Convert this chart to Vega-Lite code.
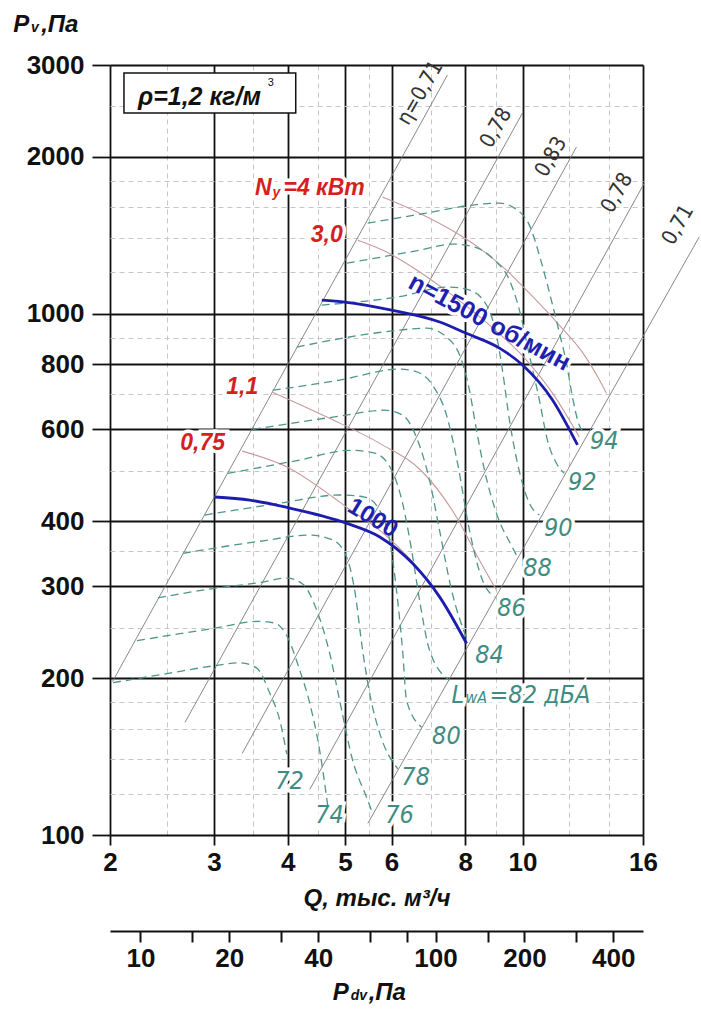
{
  "$schema": "https://vega.github.io/schema/vega-lite/v6.json",
  "width": 533,
  "height": 770,
  "autosize": {"type": "none"},
  "padding": {"left": 110, "top": 65, "right": 58, "bottom": 175},
  "background": "white",
  "config": {"view": {"stroke": null}},
  "datasets": {
    "curves": [
      {"id": "R1", "kind": "ray", "ord": 0, "q": 2.02, "p": 197}, {"id": "R1", "kind": "ray", "ord": 1, "q": 7.46, "p": 2870},
      {"id": "R2", "kind": "ray", "ord": 0, "q": 2.68, "p": 164.5}, {"id": "R2", "kind": "ray", "ord": 1, "q": 10.0, "p": 2427},
      {"id": "R3", "kind": "ray", "ord": 0, "q": 3.35, "p": 143.4}, {"id": "R3", "kind": "ray", "ord": 1, "q": 12.34, "p": 2088},
      {"id": "R4", "kind": "ray", "ord": 0, "q": 4.36, "p": 122.3}, {"id": "R4", "kind": "ray", "ord": 1, "q": 16.08, "p": 1780},
      {"id": "R5", "kind": "ray", "ord": 0, "q": 5.47, "p": 105.3}, {"id": "R5", "kind": "ray", "ord": 1, "q": 19.92, "p": 1403},

      {"id": "PA", "kind": "pow", "ord": 0, "q": 5.79, "p": 1674}, {"id": "PA", "kind": "pow", "ord": 1, "q": 6.69, "p": 1559},
      {"id": "PA", "kind": "pow", "ord": 2, "q": 7.73, "p": 1428}, {"id": "PA", "kind": "pow", "ord": 3, "q": 8.45, "p": 1336},
      {"id": "PA", "kind": "pow", "ord": 4, "q": 9.39, "p": 1212}, {"id": "PA", "kind": "pow", "ord": 5, "q": 10.27, "p": 1095},
      {"id": "PA", "kind": "pow", "ord": 6, "q": 11.54, "p": 951}, {"id": "PA", "kind": "pow", "ord": 7, "q": 12.73, "p": 833},
      {"id": "PA", "kind": "pow", "ord": 8, "q": 13.5, "p": 746}, {"id": "PA", "kind": "pow", "ord": 9, "q": 13.87, "p": 704},
      {"id": "PB", "kind": "pow", "ord": 0, "q": 5.26, "p": 1384}, {"id": "PB", "kind": "pow", "ord": 1, "q": 5.84, "p": 1319},
      {"id": "PB", "kind": "pow", "ord": 2, "q": 6.51, "p": 1228}, {"id": "PB", "kind": "pow", "ord": 3, "q": 7.52, "p": 1095},
      {"id": "PB", "kind": "pow", "ord": 4, "q": 8.79, "p": 951}, {"id": "PB", "kind": "pow", "ord": 5, "q": 10.08, "p": 822},
      {"id": "PB", "kind": "pow", "ord": 6, "q": 11.24, "p": 704}, {"id": "PB", "kind": "pow", "ord": 7, "q": 12.48, "p": 580},
      {"id": "PC", "kind": "pow", "ord": 0, "q": 3.77, "p": 707}, {"id": "PC", "kind": "pow", "ord": 1, "q": 4.71, "p": 630},
      {"id": "PC", "kind": "pow", "ord": 2, "q": 5.73, "p": 564}, {"id": "PC", "kind": "pow", "ord": 3, "q": 6.77, "p": 497},
      {"id": "PC", "kind": "pow", "ord": 4, "q": 7.73, "p": 407}, {"id": "PC", "kind": "pow", "ord": 5, "q": 8.45, "p": 337},
      {"id": "PC", "kind": "pow", "ord": 6, "q": 9.03, "p": 295},
      {"id": "PD", "kind": "pow", "ord": 0, "q": 3.35, "p": 545}, {"id": "PD", "kind": "pow", "ord": 1, "q": 3.99, "p": 508},
      {"id": "PD", "kind": "pow", "ord": 2, "q": 4.77, "p": 445}, {"id": "PD", "kind": "pow", "ord": 3, "q": 5.04, "p": 425},
      {"id": "PD", "kind": "pow", "ord": 4, "q": 5.73, "p": 384}, {"id": "PD", "kind": "pow", "ord": 5, "q": 6.51, "p": 334},
      {"id": "PD", "kind": "pow", "ord": 6, "q": 7.24, "p": 286}, {"id": "PD", "kind": "pow", "ord": 7, "q": 7.97, "p": 236},

      {"id": "B15", "kind": "rpm", "ord": 0, "q": 4.57, "p": 1062}, {"id": "B15", "kind": "rpm", "ord": 1, "q": 5.0, "p": 1053},
      {"id": "B15", "kind": "rpm", "ord": 2, "q": 6.0, "p": 1016}, {"id": "B15", "kind": "rpm", "ord": 3, "q": 7.24, "p": 964},
      {"id": "B15", "kind": "rpm", "ord": 4, "q": 8.01, "p": 918}, {"id": "B15", "kind": "rpm", "ord": 5, "q": 9.14, "p": 859},
      {"id": "B15", "kind": "rpm", "ord": 6, "q": 10.0, "p": 797}, {"id": "B15", "kind": "rpm", "ord": 7, "q": 11.24, "p": 683},
      {"id": "B15", "kind": "rpm", "ord": 8, "q": 12.39, "p": 560},
      {"id": "B10", "kind": "rpm", "ord": 0, "q": 3.01, "p": 445}, {"id": "B10", "kind": "rpm", "ord": 1, "q": 3.45, "p": 439},
      {"id": "B10", "kind": "rpm", "ord": 2, "q": 3.99, "p": 425}, {"id": "B10", "kind": "rpm", "ord": 3, "q": 5.04, "p": 396},
      {"id": "B10", "kind": "rpm", "ord": 4, "q": 5.73, "p": 373}, {"id": "B10", "kind": "rpm", "ord": 5, "q": 6.51, "p": 332},
      {"id": "B10", "kind": "rpm", "ord": 6, "q": 7.24, "p": 286}, {"id": "B10", "kind": "rpm", "ord": 7, "q": 8.04, "p": 233},

      {"id": "N72", "kind": "noise", "ord": 0, "q": 2.024, "p": 196}, {"id": "N72", "kind": "noise", "ord": 1, "q": 2.497, "p": 204},
      {"id": "N72", "kind": "noise", "ord": 2, "q": 2.988, "p": 211}, {"id": "N72", "kind": "noise", "ord": 3, "q": 3.319, "p": 214},
      {"id": "N72", "kind": "noise", "ord": 4, "q": 3.546, "p": 209}, {"id": "N72", "kind": "noise", "ord": 5, "q": 3.731, "p": 187},
      {"id": "N72", "kind": "noise", "ord": 6, "q": 3.879, "p": 166}, {"id": "N72", "kind": "noise", "ord": 7, "q": 3.986, "p": 143},

      {"id": "N74", "kind": "noise", "ord": 0, "q": 2.222, "p": 236}, {"id": "N74", "kind": "noise", "ord": 1, "q": 2.988, "p": 249},
      {"id": "N74", "kind": "noise", "ord": 2, "q": 3.588, "p": 257}, {"id": "N74", "kind": "noise", "ord": 3, "q": 3.804, "p": 255},
      {"id": "N74", "kind": "noise", "ord": 4, "q": 4.002, "p": 239}, {"id": "N74", "kind": "noise", "ord": 5, "q": 4.193, "p": 207},
      {"id": "N74", "kind": "noise", "ord": 6, "q": 4.36, "p": 179}, {"id": "N74", "kind": "noise", "ord": 7, "q": 4.533, "p": 145},
      {"id": "N74", "kind": "noise", "ord": 8, "q": 4.676, "p": 114},

      {"id": "N76", "kind": "noise", "ord": 0, "q": 2.411, "p": 285}, {"id": "N76", "kind": "noise", "ord": 1, "q": 2.988, "p": 297},
      {"id": "N76", "kind": "noise", "ord": 2, "q": 3.588, "p": 305}, {"id": "N76", "kind": "noise", "ord": 3, "q": 3.986, "p": 311},
      {"id": "N76", "kind": "noise", "ord": 4, "q": 4.242, "p": 303}, {"id": "N76", "kind": "noise", "ord": 5, "q": 4.48, "p": 270},
      {"id": "N76", "kind": "noise", "ord": 6, "q": 4.713, "p": 223}, {"id": "N76", "kind": "noise", "ord": 7, "q": 4.9, "p": 181},
      {"id": "N76", "kind": "noise", "ord": 8, "q": 5.155, "p": 139}, {"id": "N76", "kind": "noise", "ord": 9, "q": 5.444, "p": 118},
      {"id": "N76", "kind": "noise", "ord": 10, "q": 5.572, "p": 110},

      {"id": "N78", "kind": "noise", "ord": 0, "q": 2.658, "p": 347}, {"id": "N78", "kind": "noise", "ord": 1, "q": 3.588, "p": 366},
      {"id": "N78", "kind": "noise", "ord": 2, "q": 4.36, "p": 376}, {"id": "N78", "kind": "noise", "ord": 3, "q": 4.768, "p": 368},
      {"id": "N78", "kind": "noise", "ord": 4, "q": 5.036, "p": 341}, {"id": "N78", "kind": "noise", "ord": 5, "q": 5.195, "p": 295},
      {"id": "N78", "kind": "noise", "ord": 6, "q": 5.359, "p": 226}, {"id": "N78", "kind": "noise", "ord": 7, "q": 5.508, "p": 187},
      {"id": "N78", "kind": "noise", "ord": 8, "q": 5.726, "p": 157}, {"id": "N78", "kind": "noise", "ord": 9, "q": 6.143, "p": 134},

      {"id": "N80", "kind": "noise", "ord": 0, "q": 2.896, "p": 411}, {"id": "N80", "kind": "noise", "ord": 1, "q": 3.879, "p": 433},
      {"id": "N80", "kind": "noise", "ord": 2, "q": 4.9, "p": 449}, {"id": "N80", "kind": "noise", "ord": 3, "q": 5.401, "p": 445},
      {"id": "N80", "kind": "noise", "ord": 4, "q": 5.726, "p": 420}, {"id": "N80", "kind": "noise", "ord": 5, "q": 5.954, "p": 368},
      {"id": "N80", "kind": "noise", "ord": 6, "q": 6.143, "p": 282}, {"id": "N80", "kind": "noise", "ord": 7, "q": 6.263, "p": 226},
      {"id": "N80", "kind": "noise", "ord": 8, "q": 6.362, "p": 181}, {"id": "N80", "kind": "noise", "ord": 9, "q": 6.745, "p": 161},

      {"id": "N82", "kind": "noise", "ord": 0, "q": 3.167, "p": 494}, {"id": "N82", "kind": "noise", "ord": 1, "q": 4.193, "p": 524},
      {"id": "N82", "kind": "noise", "ord": 2, "q": 5.095, "p": 547}, {"id": "N82", "kind": "noise", "ord": 3, "q": 5.616, "p": 540},
      {"id": "N82", "kind": "noise", "ord": 4, "q": 6.001, "p": 501}, {"id": "N82", "kind": "noise", "ord": 5, "q": 6.263, "p": 433},
      {"id": "N82", "kind": "noise", "ord": 6, "q": 6.487, "p": 352}, {"id": "N82", "kind": "noise", "ord": 7, "q": 6.692, "p": 282},
      {"id": "N82", "kind": "noise", "ord": 8, "q": 6.958, "p": 226}, {"id": "N82", "kind": "noise", "ord": 9, "q": 7.522, "p": 198},

      {"id": "N84", "kind": "noise", "ord": 0, "q": 3.491, "p": 600}, {"id": "N84", "kind": "noise", "ord": 1, "q": 4.9, "p": 636},
      {"id": "N84", "kind": "noise", "ord": 2, "q": 5.839, "p": 653}, {"id": "N84", "kind": "noise", "ord": 3, "q": 6.263, "p": 639},
      {"id": "N84", "kind": "noise", "ord": 4, "q": 6.64, "p": 572}, {"id": "N84", "kind": "noise", "ord": 5, "q": 6.958, "p": 479},
      {"id": "N84", "kind": "noise", "ord": 6, "q": 7.235, "p": 384}, {"id": "N84", "kind": "noise", "ord": 7, "q": 7.581, "p": 295},
      {"id": "N84", "kind": "noise", "ord": 8, "q": 8.068, "p": 236},

      {"id": "N86", "kind": "noise", "ord": 0, "q": 3.774, "p": 713}, {"id": "N86", "kind": "noise", "ord": 1, "q": 4.9, "p": 746},
      {"id": "N86", "kind": "noise", "ord": 2, "q": 6.191, "p": 783}, {"id": "N86", "kind": "noise", "ord": 3, "q": 6.563, "p": 776},
      {"id": "N86", "kind": "noise", "ord": 4, "q": 7.04, "p": 729}, {"id": "N86", "kind": "noise", "ord": 5, "q": 7.434, "p": 639},
      {"id": "N86", "kind": "noise", "ord": 6, "q": 7.76, "p": 517}, {"id": "N86", "kind": "noise", "ord": 7, "q": 8.131, "p": 384},
      {"id": "N86", "kind": "noise", "ord": 8, "q": 8.554, "p": 308}, {"id": "N86", "kind": "noise", "ord": 9, "q": 8.963, "p": 286},

      {"id": "N88", "kind": "noise", "ord": 0, "q": 4.144, "p": 863}, {"id": "N88", "kind": "noise", "ord": 1, "q": 5.794, "p": 922},
      {"id": "N88", "kind": "noise", "ord": 2, "q": 6.877, "p": 938}, {"id": "N88", "kind": "noise", "ord": 3, "q": 7.434, "p": 902},
      {"id": "N88", "kind": "noise", "ord": 4, "q": 7.882, "p": 815}, {"id": "N88", "kind": "noise", "ord": 5, "q": 8.131, "p": 713},
      {"id": "N88", "kind": "noise", "ord": 6, "q": 8.356, "p": 598}, {"id": "N88", "kind": "noise", "ord": 7, "q": 8.621, "p": 501},
      {"id": "N88", "kind": "noise", "ord": 8, "q": 9.034, "p": 414}, {"id": "N88", "kind": "noise", "ord": 9, "q": 9.615, "p": 356},
      {"id": "N88", "kind": "noise", "ord": 10, "q": 9.804, "p": 341},

      {"id": "N90", "kind": "noise", "ord": 0, "q": 4.568, "p": 1039}, {"id": "N90", "kind": "noise", "ord": 1, "q": 6.119, "p": 1076},
      {"id": "N90", "kind": "noise", "ord": 2, "q": 7.522, "p": 1125}, {"id": "N90", "kind": "noise", "ord": 3, "q": 8.131, "p": 1110},
      {"id": "N90", "kind": "noise", "ord": 4, "q": 8.688, "p": 1039}, {"id": "N90", "kind": "noise", "ord": 5, "q": 9.034, "p": 910},
      {"id": "N90", "kind": "noise", "ord": 6, "q": 9.247, "p": 779}, {"id": "N90", "kind": "noise", "ord": 7, "q": 9.503, "p": 625},
      {"id": "N90", "kind": "noise", "ord": 8, "q": 9.804, "p": 517}, {"id": "N90", "kind": "noise", "ord": 9, "q": 10.27, "p": 433},
      {"id": "N90", "kind": "noise", "ord": 10, "q": 10.68, "p": 411},

      {"id": "N92", "kind": "noise", "ord": 0, "q": 5.036, "p": 1250}, {"id": "N92", "kind": "noise", "ord": 1, "q": 6.692, "p": 1324},
      {"id": "N92", "kind": "noise", "ord": 2, "q": 7.61, "p": 1360}, {"id": "N92", "kind": "noise", "ord": 3, "q": 8.291, "p": 1342},
      {"id": "N92", "kind": "noise", "ord": 4, "q": 8.963, "p": 1267}, {"id": "N92", "kind": "noise", "ord": 5, "q": 9.503, "p": 1160},
      {"id": "N92", "kind": "noise", "ord": 6, "q": 9.88, "p": 1016}, {"id": "N92", "kind": "noise", "ord": 7, "q": 10.27, "p": 833},
      {"id": "N92", "kind": "noise", "ord": 8, "q": 10.68, "p": 683}, {"id": "N92", "kind": "noise", "ord": 9, "q": 11.02, "p": 572},
      {"id": "N92", "kind": "noise", "ord": 10, "q": 11.41, "p": 517}, {"id": "N92", "kind": "noise", "ord": 11, "q": 11.77, "p": 494},

      {"id": "N94", "kind": "noise", "ord": 0, "q": 5.465, "p": 1492}, {"id": "N94", "kind": "noise", "ord": 1, "q": 6.877, "p": 1560},
      {"id": "N94", "kind": "noise", "ord": 2, "q": 8.227, "p": 1616}, {"id": "N94", "kind": "noise", "ord": 3, "q": 9.14, "p": 1630},
      {"id": "N94", "kind": "noise", "ord": 4, "q": 9.804, "p": 1580}, {"id": "N94", "kind": "noise", "ord": 5, "q": 10.27, "p": 1479},
      {"id": "N94", "kind": "noise", "ord": 6, "q": 10.76, "p": 1256}, {"id": "N94", "kind": "noise", "ord": 7, "q": 11.19, "p": 1062},
      {"id": "N94", "kind": "noise", "ord": 8, "q": 11.55, "p": 918}, {"id": "N94", "kind": "noise", "ord": 9, "q": 11.87, "p": 804},
      {"id": "N94", "kind": "noise", "ord": 10, "q": 12.15, "p": 692}, {"id": "N94", "kind": "noise", "ord": 11, "q": 12.48, "p": 611},
      {"id": "N94", "kind": "noise", "ord": 12, "q": 12.78, "p": 590}
    ],
    "box": [{"q": 2.112, "q2": 4.128, "p": 2896, "p2": 2427}],
    "labels": [
      {"text": "η=0,71", "kind": "eta", "q": 6.72, "p": 2651},
      {"text": "0,78", "kind": "eta", "q": 9.03, "p": 2271},
      {"text": "0,83", "kind": "eta", "q": 11.19, "p": 1998},
      {"text": "0,78", "kind": "eta", "q": 14.47, "p": 1704},
      {"text": "0,71", "kind": "eta", "q": 18.36, "p": 1479},
      {"text": "3,0", "kind": "red", "q": 4.66, "p": 1415},
      {"text": "1,1", "kind": "red", "q": 3.35, "p": 723},
      {"text": "0,75", "kind": "red", "q": 2.87, "p": 564},
      {"text": "N", "kind": "redL", "q": 3.52, "p": 1690},
      {"text": "=4 кВт", "kind": "redL", "q": 3.935, "p": 1690},
      {"text": "y", "kind": "redSub", "q": 3.77, "p": 1675},
      {"text": "94", "kind": "teal", "q": 13.76, "p": 569},
      {"text": "92", "kind": "teal", "q": 12.63, "p": 475},
      {"text": "90", "kind": "teal", "q": 11.5, "p": 388},
      {"text": "88", "kind": "teal", "q": 10.6, "p": 325},
      {"text": "86", "kind": "teal", "q": 9.58, "p": 272},
      {"text": "84", "kind": "teal", "q": 8.79, "p": 221},
      {"text": "80", "kind": "teal", "q": 7.43, "p": 155},
      {"text": "78", "kind": "teal", "q": 6.59, "p": 129},
      {"text": "76", "kind": "teal", "q": 6.19, "p": 109},
      {"text": "74", "kind": "teal", "q": 4.71, "p": 109},
      {"text": "72", "kind": "teal", "q": 4.03, "p": 127},
      {"text": "L", "kind": "tealL", "q": 7.581, "p": 179},
      {"text": "=82 дБА", "kind": "tealL", "q": 8.79, "p": 179},
      {"text": "wA", "kind": "tealSub", "q": 8.006, "p": 179},
      {"text": "n=1500 об/мин", "kind": "b15", "q": 8.79, "p": 963},
      {"text": "1000", "kind": "b10", "q": 5.57, "p": 405},
      {"text": "P", "kind": "title", "q": 1.371, "p": 3471},
      {"text": ",Па", "kind": "title", "q": 1.529, "p": 3471},
      {"text": "v", "kind": "titleSub", "q": 1.47, "p": 3471},
      {"text": "P", "kind": "title", "q": 4.768, "p": 48.2},
      {"text": ",Па", "kind": "title", "q": 5.486, "p": 48.2},
      {"text": "dv", "kind": "titleSub", "q": 5.115, "p": 48.2},
      {"text": "ρ=1,2 кг/м", "kind": "box", "q": 2.231, "p": 2604},
      {"text": "3", "kind": "boxSup", "q": 3.7, "p": 2730}
    ],
    "pdv": [{"pdv": 10}, {"pdv": 400}]
  },
  "layer": [
    {
      "encoding": {
        "x": {
          "field": "q", "type": "quantitative",
          "scale": {"type": "log", "domain": [2, 16], "nice": false},
          "axis": {
            "values": [2, 2.5, 3, 3.5, 4, 4.5, 5, 5.5, 6, 7, 8, 9, 10, 12, 14, 16],
            "labelExpr": "indexof([2,3,4,5,6,8,10,16], datum.value) >= 0 ? datum.value + '' : ''",
            "domain": false,
            "grid": true,
            "gridColor": {"condition": {"test": "indexof([2,3,4,5,6,8,10,16], datum.value) >= 0", "value": "#111111"}, "value": "#c6c6c6"},
            "gridDash": {"condition": {"test": "indexof([2,3,4,5,6,8,10,16], datum.value) >= 0", "value": []}, "value": [5, 4]},
            "gridWidth": {"condition": {"test": "indexof([2,3,4,5,6,8,10,16], datum.value) >= 0", "value": 1.8}, "value": 1},
            "tickColor": {"condition": {"test": "indexof([2,3,4,5,6,8,10,16], datum.value) >= 0", "value": "#111111"}, "value": "transparent"},
            "tickSize": 10, "tickWidth": 1.8,
            "labelFont": "Liberation Sans", "labelFontWeight": "bold", "labelFontSize": 26, "labelColor": "#111111",
            "labelPadding": 4, "labelFlush": false, "labelOverlap": false,
            "title": "Q, тыс. м³/ч",
            "titleFont": "Liberation Sans", "titleFontWeight": "bold", "titleFontStyle": "italic", "titleFontSize": 24,
            "titleColor": "#111111", "titlePadding": 11
          }
        },
        "y": {
          "field": "p", "type": "quantitative",
          "scale": {"type": "log", "domain": [100, 3000], "nice": false},
          "axis": {
            "values": [100, 120, 140, 160, 180, 200, 250, 300, 350, 400, 500, 600, 700, 800, 900, 1000, 1200, 1400, 1600, 1800, 2000, 2500, 3000],
            "labelExpr": "indexof([100,200,300,400,600,800,1000,2000,3000], datum.value) >= 0 ? datum.value + '' : ''",
            "domain": false,
            "grid": true,
            "gridColor": {"condition": {"test": "indexof([100,200,300,400,600,800,1000,2000,3000], datum.value) >= 0", "value": "#111111"}, "value": "#c6c6c6"},
            "gridDash": {"condition": {"test": "indexof([100,200,300,400,600,800,1000,2000,3000], datum.value) >= 0", "value": []}, "value": [5, 4]},
            "gridWidth": {"condition": {"test": "indexof([100,200,300,400,600,800,1000,2000,3000], datum.value) >= 0", "value": 1.8}, "value": 1},
            "tickColor": {"condition": {"test": "indexof([100,200,300,400,600,800,1000,2000,3000], datum.value) >= 0", "value": "#111111"}, "value": "transparent"},
            "tickSize": 18, "tickWidth": 1.8,
            "labelFont": "Liberation Sans", "labelFontWeight": "bold", "labelFontSize": 26, "labelColor": "#111111",
            "labelPadding": 8, "labelFlush": false, "labelOverlap": false,
            "title": null
          }
        }
      },
      "layer": [
        {
          "data": {"name": "labels"},
          "transform": [{"filter": "datum.kind == 'teal' || datum.kind == 'tealL'"}],
          "mark": {"type": "text", "font": "Liberation Sans Narrow, DejaVu Sans Condensed, sans-serif", "fontStyle": "italic", "fontSize": 25, "color": "white", "stroke": "white", "strokeWidth": 7, "align": {"expr": "datum.kind == 'teal' ? 'center' : 'left'"}, "baseline": {"expr": "datum.kind == 'teal' ? 'middle' : 'alphabetic'"}},
          "encoding": {"text": {"field": "text"}}
        },
        {
          "data": {"name": "labels"},
          "transform": [{"filter": "datum.kind == 'red' || datum.kind == 'redL'"}],
          "mark": {"type": "text", "font": "Liberation Sans", "fontWeight": "bold", "fontStyle": "italic", "fontSize": 23, "color": "white", "stroke": "white", "strokeWidth": 7, "align": {"expr": "datum.kind == 'red' ? 'center' : 'left'"}, "baseline": {"expr": "datum.kind == 'red' ? 'middle' : 'alphabetic'"}},
          "encoding": {"text": {"field": "text"}}
        },
        {
          "data": {"name": "labels"},
          "transform": [{"filter": "datum.kind == 'b15'"}],
          "mark": {"type": "text", "font": "Liberation Sans", "fontWeight": "bold", "fontSize": 25, "color": "white", "stroke": "white", "strokeWidth": 7, "angle": 28, "align": "center", "baseline": "middle"},
          "encoding": {"text": {"field": "text"}}
        },
        {
          "data": {"name": "box"},
          "mark": {"type": "rect", "fill": "white", "stroke": "#111111", "strokeWidth": 1.5},
          "encoding": {"x2": {"field": "q2"}, "y2": {"field": "p2"}}
        },
        {
          "data": {"name": "curves"},
          "transform": [{"filter": "datum.kind == 'ray'"}],
          "mark": {"type": "line", "color": "#7a7a7a", "strokeWidth": 0.9},
          "encoding": {"detail": {"field": "id"}, "order": {"field": "ord"}}
        },
        {
          "data": {"name": "curves"},
          "transform": [{"filter": "datum.kind == 'pow'"}],
          "mark": {"type": "line", "color": "#c99a9a", "strokeWidth": 1.1, "interpolate": "monotone"},
          "encoding": {"detail": {"field": "id"}, "order": {"field": "ord"}}
        },
        {
          "data": {"name": "curves"},
          "transform": [{"filter": "datum.kind == 'noise'"}],
          "mark": {"type": "line", "color": "#4f9688", "strokeWidth": 1.3, "strokeDash": [8, 5], "interpolate": "monotone"},
          "encoding": {"detail": {"field": "id"}, "order": {"field": "ord"}}
        },
        {
          "data": {"name": "curves"},
          "transform": [{"filter": "datum.kind == 'rpm'"}],
          "mark": {"type": "line", "color": "#1c1cae", "strokeWidth": 2.8, "interpolate": "monotone"},
          "encoding": {"detail": {"field": "id"}, "order": {"field": "ord"}}
        },
        {
          "data": {"name": "labels"},
          "transform": [{"filter": "datum.kind == 'eta'"}],
          "mark": {"type": "text", "font": "Liberation Sans Narrow, DejaVu Sans Condensed, sans-serif", "fontSize": 21, "color": "#333333", "angle": 300, "align": "center", "baseline": "middle"},
          "encoding": {"text": {"field": "text"}}
        },
        {
          "data": {"name": "labels"},
          "transform": [{"filter": "datum.kind == 'red'"}],
          "mark": {"type": "text", "font": "Liberation Sans", "fontWeight": "bold", "fontStyle": "italic", "fontSize": 23, "color": "#d61f1f", "align": "center", "baseline": "middle"},
          "encoding": {"text": {"field": "text"}}
        },
        {
          "data": {"name": "labels"},
          "transform": [{"filter": "datum.kind == 'redL'"}],
          "mark": {"type": "text", "font": "Liberation Sans", "fontWeight": "bold", "fontStyle": "italic", "fontSize": 23, "color": "#d61f1f", "align": "left", "baseline": "alphabetic"},
          "encoding": {"text": {"field": "text"}}
        },
        {
          "data": {"name": "labels"},
          "transform": [{"filter": "datum.kind == 'redSub'"}],
          "mark": {"type": "text", "font": "Liberation Sans", "fontWeight": "bold", "fontStyle": "italic", "fontSize": 14, "color": "#d61f1f", "align": "left", "baseline": "alphabetic"},
          "encoding": {"text": {"field": "text"}}
        },
        {
          "data": {"name": "labels"},
          "transform": [{"filter": "datum.kind == 'teal'"}],
          "mark": {"type": "text", "font": "Liberation Sans Narrow, DejaVu Sans Condensed, sans-serif", "fontStyle": "italic", "fontSize": 25, "color": "#3f8c82", "align": "center", "baseline": "middle"},
          "encoding": {"text": {"field": "text"}}
        },
        {
          "data": {"name": "labels"},
          "transform": [{"filter": "datum.kind == 'tealL'"}],
          "mark": {"type": "text", "font": "Liberation Sans Narrow, DejaVu Sans Condensed, sans-serif", "fontStyle": "italic", "fontSize": 25, "color": "#3f8c82", "align": "left", "baseline": "alphabetic"},
          "encoding": {"text": {"field": "text"}}
        },
        {
          "data": {"name": "labels"},
          "transform": [{"filter": "datum.kind == 'tealSub'"}],
          "mark": {"type": "text", "font": "Liberation Sans Narrow, DejaVu Sans Condensed, sans-serif", "fontStyle": "italic", "fontSize": 16, "color": "#3f8c82", "align": "left", "baseline": "alphabetic"},
          "encoding": {"text": {"field": "text"}}
        },
        {
          "data": {"name": "labels"},
          "transform": [{"filter": "datum.kind == 'b15'"}],
          "mark": {"type": "text", "font": "Liberation Sans", "fontWeight": "bold", "fontSize": 25, "color": "#1f1fb0", "angle": 28, "align": "center", "baseline": "middle"},
          "encoding": {"text": {"field": "text"}}
        },
        {
          "data": {"name": "labels"},
          "transform": [{"filter": "datum.kind == 'b10'"}],
          "mark": {"type": "text", "font": "Liberation Sans", "fontWeight": "bold", "fontSize": 24, "color": "#1f1fb0", "angle": 31, "align": "center", "baseline": "middle"},
          "encoding": {"text": {"field": "text"}}
        },
        {
          "data": {"name": "labels"},
          "transform": [{"filter": "datum.kind == 'title'"}],
          "mark": {"type": "text", "font": "Liberation Sans", "fontWeight": "bold", "fontStyle": "italic", "fontSize": 24, "color": "#111111", "align": "left", "baseline": "alphabetic"},
          "encoding": {"text": {"field": "text"}}
        },
        {
          "data": {"name": "labels"},
          "transform": [{"filter": "datum.kind == 'titleSub'"}],
          "mark": {"type": "text", "font": "Liberation Sans", "fontWeight": "bold", "fontStyle": "italic", "fontSize": 14, "color": "#111111", "align": "left", "baseline": "alphabetic"},
          "encoding": {"text": {"field": "text"}}
        },
        {
          "data": {"name": "labels"},
          "transform": [{"filter": "datum.kind == 'box'"}],
          "mark": {"type": "text", "font": "Liberation Sans", "fontWeight": "bold", "fontStyle": "italic", "fontSize": 25, "color": "#111111", "align": "left", "baseline": "middle"},
          "encoding": {"text": {"field": "text"}}
        },
        {
          "data": {"name": "labels"},
          "transform": [{"filter": "datum.kind == 'boxSup'"}],
          "mark": {"type": "text", "font": "Liberation Sans", "fontSize": 11, "color": "#111111", "align": "left", "baseline": "alphabetic"},
          "encoding": {"text": {"field": "text"}}
        }
      ]
    },
    {
      "data": {"name": "pdv"},
      "mark": {"type": "point", "opacity": 0},
      "encoding": {
        "x": {
          "field": "pdv", "type": "quantitative",
          "scale": {"type": "log", "domain": [7.885, 504.6], "nice": false},
          "axis": {
            "orient": "bottom", "offset": 96,
            "values": [10, 15, 20, 30, 40, 60, 80, 100, 150, 200, 300, 400],
            "labelExpr": "indexof([10,20,40,100,200,400], datum.value) >= 0 ? datum.value + '' : ''",
            "domain": true, "domainColor": "#111111", "domainWidth": 2,
            "ticks": true, "tickColor": "#111111", "tickWidth": 2, "tickSize": 11,
            "grid": false,
            "labelFont": "Liberation Sans", "labelFontWeight": "bold", "labelFontSize": 26, "labelColor": "#111111",
            "labelPadding": 3, "labelFlush": false, "labelOverlap": false,
            "title": null
          }
        }
      }
    }
  ],
  "resolve": {"scale": {"x": "independent"}, "axis": {"x": "independent"}}
}
